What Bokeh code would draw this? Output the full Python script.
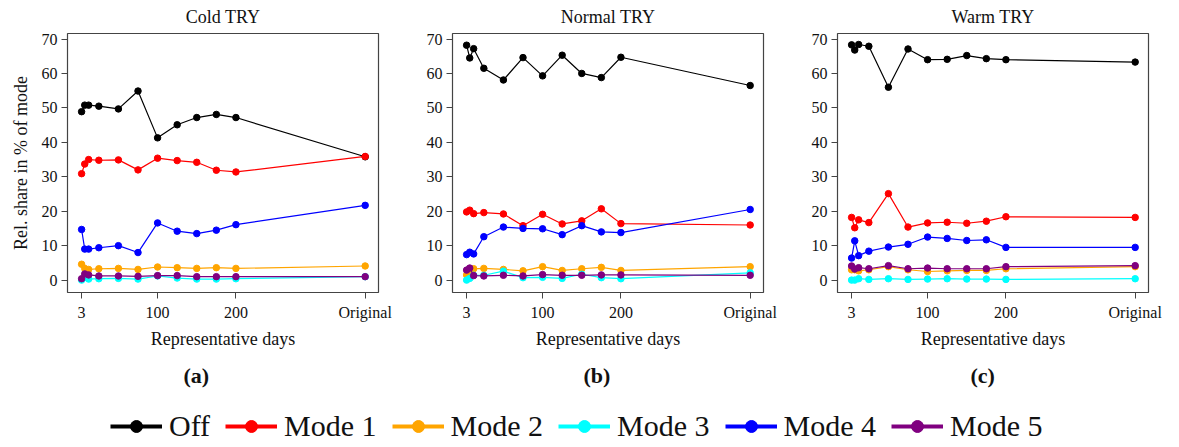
from bokeh.plotting import figure
from bokeh.models import FixedTicker, Title, Legend, LegendItem, Range1d
from bokeh.layouts import column, row
from bokeh.embed import file_html
from bokeh.resources import INLINE

# ---------------- data ----------------
days = [3, 7, 12, 25, 50, 75, 100, 125, 150, 175, 200, 365]
x_ticks = [3, 100, 200, 365]
x_tick_labels = ["3", "100", "200", "Original"]
y_ticks = [0, 10, 20, 30, 40, 50, 60, 70]

series_names = ["Off", "Mode 1", "Mode 2", "Mode 3", "Mode 4", "Mode 5"]
series_colors = ["#000000", "#ff0000", "#ffa500", "#00ffff", "#0000ff", "#800080"]

panel_titles = ["Cold TRY", "Normal TRY", "Warm TRY"]
panel_tags = ["(a)", "(b)", "(c)"]

cold_off   = [48.9, 50.8, 50.8, 50.5, 49.7, 54.9, 41.3, 45.1, 47.2, 48.1, 47.2, 35.8]
cold_mode1 = [30.9, 33.7, 35.0, 34.8, 34.9, 32.0, 35.4, 34.7, 34.2, 31.9, 31.4, 35.9]
cold_mode2 = [4.6, 3.4, 3.1, 3.3, 3.4, 3.1, 3.8, 3.6, 3.4, 3.6, 3.4, 4.1]
cold_mode3 = [0.0, 0.8, 0.3, 0.4, 0.5, 0.3, 1.2, 0.6, 0.3, 0.3, 0.4, 1.0]
cold_mode4 = [14.7, 9.0, 9.0, 9.4, 10.0, 8.0, 16.6, 14.2, 13.5, 14.5, 16.1, 21.7]
cold_mode5 = [0.4, 1.8, 1.5, 1.2, 1.2, 1.1, 1.3, 1.3, 1.0, 1.0, 1.0, 1.0]

normal_off   = [68.2, 64.5, 67.2, 61.5, 58.1, 64.6, 59.3, 65.3, 60.0, 58.8, 64.7, 56.5]
normal_mode1 = [19.8, 20.3, 19.3, 19.6, 19.2, 15.8, 19.1, 16.3, 17.2, 20.7, 16.4, 16.0]
normal_mode2 = [1.5, 2.7, 3.3, 3.4, 3.1, 2.7, 3.9, 2.8, 3.3, 3.7, 2.8, 3.9]
normal_mode3 = [0.0, 0.5, 1.4, 1.4, 2.6, 0.7, 0.8, 0.5, 1.7, 0.7, 0.4, 2.1]
normal_mode4 = [7.4, 8.1, 7.6, 12.6, 15.4, 15.0, 14.9, 13.2, 15.8, 14.0, 13.8, 20.5]
normal_mode5 = [2.9, 3.5, 1.3, 1.2, 1.4, 1.2, 1.6, 1.4, 1.4, 1.5, 1.5, 1.4]

warm_off   = [68.3, 66.8, 68.4, 67.9, 56.0, 67.1, 64.0, 64.1, 65.2, 64.3, 64.0, 63.3]
warm_mode1 = [18.2, 15.2, 17.5, 16.7, 25.1, 15.4, 16.6, 16.8, 16.5, 17.1, 18.4, 18.2]
warm_mode2 = [3.0, 3.0, 2.7, 3.0, 3.9, 3.0, 2.5, 2.7, 2.8, 2.8, 3.3, 3.9]
warm_mode3 = [0.0, 0.0, 0.4, 0.2, 0.4, 0.2, 0.3, 0.4, 0.3, 0.3, 0.2, 0.4]
warm_mode4 = [6.4, 11.4, 7.1, 8.4, 9.6, 10.4, 12.5, 12.1, 11.5, 11.7, 9.5, 9.5]
warm_mode5 = [4.1, 3.2, 3.6, 3.3, 4.2, 3.3, 3.5, 3.3, 3.3, 3.3, 3.9, 4.2]

panels_data = [
    [cold_off, cold_mode1, cold_mode2, cold_mode3, cold_mode4, cold_mode5],
    [normal_off, normal_mode1, normal_mode2, normal_mode3, normal_mode4, normal_mode5],
    [warm_off, warm_mode1, warm_mode2, warm_mode3, warm_mode4, warm_mode5],
]

FONT = "Liberation Serif"
FRAME_COL = "#444444"

borders = [(67, 17), (57, 17), (57, 31)]
tag_offsets = [116, 131, 133]

figs = []
for i in range(3):
    bl, br = borders[i]
    p = figure(frame_width=311, frame_height=259, output_backend="svg",
               toolbar_location=None, x_range=Range1d(-15, 382), y_range=Range1d(-3.6, 71.6),
               min_border_left=bl, min_border_right=br, min_border_top=33,
               min_border_bottom=103, background_fill_color="white",
               border_fill_color="white")
    p.title.text = panel_titles[i]
    p.title.align = "center"
    p.title.vertical_align = "top"
    p.title.text_font = FONT
    p.title.text_font_size = "18px"
    p.title.text_font_style = "normal"
    p.title.text_color = "#111111"
    p.title.standoff = 10

    p.grid.visible = False
    p.outline_line_color = FRAME_COL
    p.outline_line_width = 1.2

    for ax in (p.xaxis[0], p.yaxis[0]):
        ax.axis_line_color = None
        ax.major_tick_line_color = FRAME_COL
        ax.major_tick_line_width = 1
        ax.major_tick_out = 6
        ax.major_tick_in = 0
        ax.minor_tick_line_color = None
        ax.major_label_text_font = FONT
        ax.major_label_text_font_size = "16px"
        ax.major_label_text_color = "#111111"
        ax.axis_label_text_font = FONT
        ax.axis_label_text_font_style = "normal"
        ax.axis_label_text_font_size = "18px"
        ax.axis_label_text_color = "#111111"

    p.xaxis.ticker = FixedTicker(ticks=x_ticks)
    p.xaxis.major_label_overrides = {t: l for t, l in zip(x_ticks, x_tick_labels)}
    p.xaxis.axis_label = "Representative days"
    p.xaxis.major_label_standoff = 5
    p.xaxis.axis_label_standoff = 5

    p.yaxis.ticker = FixedTicker(ticks=y_ticks)
    p.yaxis.major_label_orientation = "horizontal"
    p.yaxis.major_label_standoff = 4
    if i == 0:
        p.yaxis.axis_label = "Rel. share in % of mode"
        p.yaxis.axis_label_standoff = 8

    for vals, col in zip(panels_data[i], series_colors):
        p.line(days, vals, color=col, line_width=1.2)
        p.scatter(days, vals, color=col, size=6.5, marker="circle")

    tag = Title(text=panel_tags[i], align="left", offset=tag_offsets[i],
                text_font=FONT, text_font_size="22px", text_font_style="bold",
                text_color="#111111", standoff=19)
    p.add_layout(tag, "below")
    figs.append(p)

# legend figure (series drawn off-range so only the legend shows)
lf = figure(width=1179, height=52, output_backend="svg", toolbar_location=None,
            x_range=Range1d(0, 1), y_range=Range1d(1000, 1001),
            min_border_left=0, min_border_right=0, min_border_top=0, min_border_bottom=0)
lf.axis.visible = False
lf.grid.visible = False
lf.outline_line_color = None
items = []
for name, vals, col in zip(series_names, panels_data[0], series_colors):
    r1 = lf.line(days, vals, color=col, line_width=4)
    r2 = lf.scatter(days, vals, color=col, size=7, marker="circle")
    items.append(LegendItem(label=name, renderers=[r1, r2]))
legend = Legend(items=items, orientation="horizontal", location=(110, 6),
                glyph_width=52, glyph_height=30, label_standoff=7, spacing=15,
                padding=0, margin=0, border_line_color=None, background_fill_alpha=0,
                label_text_font=FONT, label_text_font_size="30px",
                label_text_color="#111111", label_height=30)
lf.add_layout(legend, "center")

layout = column(row(*figs, spacing=0), lf, spacing=0)
open("out.html", "w").write(file_html(layout, INLINE))
